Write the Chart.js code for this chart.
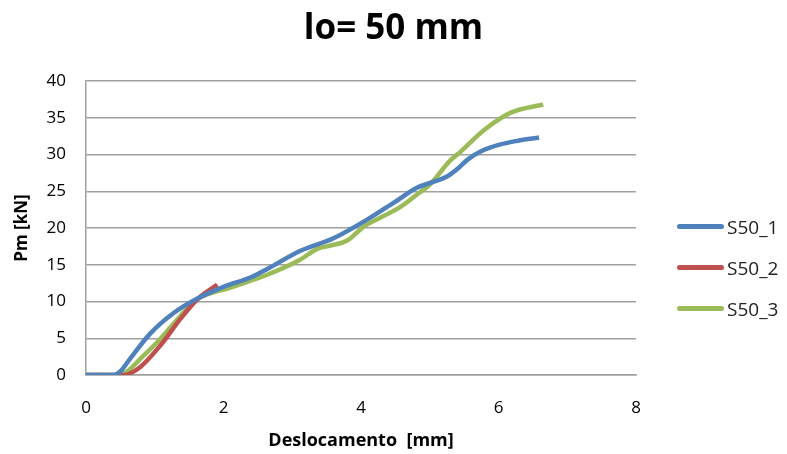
<!DOCTYPE html>
<html lang="pt">
<head>
  <meta charset="UTF-8">
  <title>lo= 50 mm</title>
  <script src="https://cdn.jsdelivr.net/npm/chart.js@4.4.7/dist/chart.umd.min.js"></script>
  <style>
    * { margin: 0; padding: 0; box-sizing: border-box; }
    body { background: #fff; width: 787px; height: 454px; overflow: hidden; }
    .wrap { position: relative; width: 787px; height: 454px; }
    .legend {
      position: absolute; left: 677px; top: 206px;
      font-family: 'Open Sans', 'DejaVu Sans', sans-serif; font-size: 19px; color: #222;
    }
    .legend-item { display: flex; align-items: center; height: 41px; }
    .legend-line { width: 47px; height: 5px; border-radius: 3px; margin-right: 3px; }
  </style>
</head>
<body>
  <div class="wrap">
    <canvas id="chart" width="787" height="454"></canvas>
    <div class="legend" id="legend"></div>
  </div>

  <script>
    // Deslocamento [mm] / Pm [kN] por ensaio
    const s50_1_x = [0, 0.4, 0.5, 0.64, 0.93, 1.27, 1.62, 2.0, 2.4, 2.65, 3.12, 3.6, 4.1, 4.5, 4.82, 5.06, 5.25, 5.41, 5.55, 5.74, 6.0, 6.3, 6.59];
    const s50_1_y = [0, 0, 0.5, 2.2, 5.6, 8.4, 10.4, 12.0, 13.3, 14.5, 16.9, 18.6, 21.2, 23.6, 25.5, 26.3, 27.0, 28.1, 29.3, 30.4, 31.3, 31.9, 32.3];

    const s50_2_x = [0, 0.55, 0.79, 1.08, 1.37, 1.62, 1.91];
    const s50_2_y = [0, 0, 1.1, 4.0, 7.6, 10.3, 12.3];

    const s50_3_x = [0, 0.45, 0.6, 0.79, 1.08, 1.37, 1.62, 2.1, 2.6, 3.1, 3.37, 3.6, 3.8, 4.04, 4.3, 4.58, 4.82, 4.99, 5.3, 5.45, 5.8, 6.18, 6.65];
    const s50_3_y = [0, 0, 0.5, 2.2, 4.9, 8.0, 10.3, 11.9, 13.5, 15.6, 17.2, 17.7, 18.3, 20.2, 21.5, 22.9, 24.6, 25.8, 29.2, 30.4, 33.4, 35.7, 36.8];

    const seriesNames = ['S50_1', 'S50_2', 'S50_3'];
    const seriesColors = ['#4F81BD', '#C0504D', '#9BBB59'];

    const xs = [s50_1_x, s50_2_x, s50_3_x];
    const ys = [s50_1_y, s50_2_y, s50_3_y];

    const datasets = seriesNames.map((name, i) => ({
      label: name,
      data: xs[i].map((x, j) => ({ x: x, y: ys[i][j] })),
      borderColor: seriesColors[i],
      backgroundColor: seriesColors[i],
      borderWidth: 4.5,
      pointRadius: 0,
      cubicInterpolationMode: 'monotone',
      fill: false,
      yAxisID: 'y',
    }));

    const font = "'Open Sans', 'DejaVu Sans', sans-serif";

    new Chart(document.getElementById('chart'), {
      type: 'line',
      data: { datasets: datasets },
      options: {
        responsive: false,
        animation: false,
        layout: { padding: { top: 6, right: 0, left: 0, bottom: 0 } },
        plugins: {
          legend: { display: false },
          tooltip: { enabled: false },
          title: {
            display: true,
            text: 'lo= 50 mm',
            color: '#000',
            font: { family: font, size: 35, weight: 'bold' },
            padding: { top: 2, bottom: 31 },
          },
        },
        scales: {
          x: {
            type: 'linear',
            min: 0, max: 8,
            ticks: { stepSize: 2, color: '#000', font: { family: font, size: 17 }, padding: 23 },
            grid: { display: false, drawTicks: false },
            border: { color: '#a0a0a0', width: 1.5 },
            title: {
              display: true, text: 'Deslocamento  [mm]', color: '#000',
              font: { family: font, size: 18, weight: 'bold' },
              padding: { top: 0, bottom: 2 },
            },
            afterFit: (s) => { s.height = 79; },
          },
          y: {
            min: 0, max: 40,
            ticks: { stepSize: 5, color: '#000', font: { family: font, size: 17 }, padding: 20 },
            grid: { color: '#a0a0a0', lineWidth: 1.5, drawTicks: false },
            border: { color: '#a0a0a0', width: 1.5 },
            title: {
              display: true, text: 'Pm [kN]', color: '#000',
              font: { family: font, size: 17, weight: 'bold' },
              padding: { top: 12, bottom: 0 },
            },
            afterFit: (s) => { s.width = 86; },
          },
          // espaço reservado à direita para a legenda
          yRight: {
            position: 'right',
            display: true,
            min: 0, max: 40,
            ticks: { display: false },
            grid: { display: false, drawTicks: false },
            border: { display: false },
            afterFit: (s) => { s.width = 151; },
          },
        },
      },
    });

    // legenda à direita
    const legendEl = document.getElementById('legend');
    seriesNames.forEach((name, i) => {
      legendEl.innerHTML += '<div class="legend-item">' +
        '<span class="legend-line" style="background:' + seriesColors[i] + '"></span>' +
        '<span>' + name + '</span></div>';
    });
  </script>
</body>
</html>
